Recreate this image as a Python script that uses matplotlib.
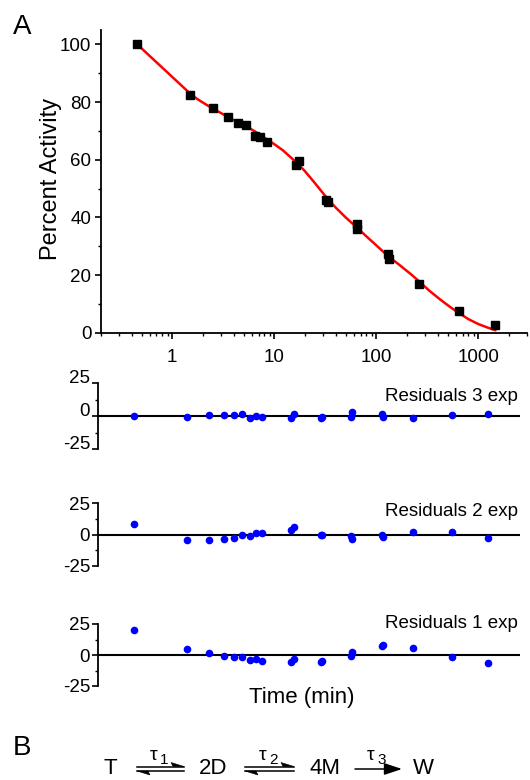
import matplotlib
matplotlib.use("Agg")
import matplotlib.pyplot as plt
from matplotlib.ticker import FixedLocator, LogLocator, NullFormatter, FixedFormatter
from matplotlib.transforms import ScaledTranslation
from matplotlib.patches import Polygon, FancyArrowPatch
from matplotlib.lines import Line2D

plt.rcParams['font.family'] = ['Liberation Sans', 'DejaVu Sans']
plt.rcParams['axes.unicode_minus'] = False

# Measured activity over time
time_min = [0.45, 1.5, 2.5, 3.5, 4.4, 5.3, 6.4, 7.3, 8.4, 16.4, 17.3,
            32, 33.3, 64, 65, 131, 133, 263, 640, 1460]
activity = [100, 82.6, 77.8, 74.9, 72.9, 71.9, 68.4, 67.9, 66.3, 58.3, 59.6,
            46.1, 45.2, 37.7, 36.0, 27.3, 25.6, 16.9, 7.6, 2.7]

# Three-exponential fit curve
fit_time = [0.454, 0.6, 0.8, 1.0, 1.2, 1.35, 1.51, 1.75, 2.0, 2.47, 3.0,
            3.48, 4.4, 5.3, 6.4, 7.5, 8.5, 10, 12, 14, 17, 20, 25, 30, 35,
            40, 50, 64, 80, 100, 130, 170, 220, 263, 330, 420, 530, 640,
            800, 1000, 1250, 1468]
fit_activity = [100, 96.0, 91.9, 88.7, 86.1, 84.4, 82.8, 81.1, 79.8, 77.8,
                76.2, 74.9, 73.0, 71.6, 69.9, 68.3, 67.0, 65.4, 63.4, 61.3,
                58.6, 56.0, 51.9, 48.4, 45.6, 43.4, 40.0, 36.6, 33.4, 30.3,
                26.6, 23.4, 20.2, 17.8, 14.6, 11.6, 8.9, 6.9, 4.7, 3.0, 1.7,
                0.9]

# Residuals of 3-, 2- and 1-exponential fits
resid_3exp = [0.25, -0.8, 0.8, 1.3, 0.8, 1.5, -1.3, 0.3, -0.5, -1.0, 2.0,
              -1.3, -0.5, -0.3, 3.0, 1.5, -0.3, -1.3, 1.0, 1.8]
resid_2exp = [8.1, -4.0, -4.5, -3.3, -2.3, -0.3, -1.0, 1.5, 1.3, 3.5, 6.3,
              -0.5, 0.0, -0.8, -3.8, 0.0, -2.0, 1.8, 1.8, -2.5]
resid_1exp = [20.5, 4.8, 1.3, -0.5, -1.8, -1.5, -4.3, -3.0, -4.5, -5.8, -3.3,
              -5.8, -4.8, -1.0, 2.5, 7.1, 8.1, 5.8, -2.0, -6.8]
resid_labels = ["Residuals 3 exp", "Residuals 2 exp", "Residuals 1 exp"]

x_ticks = [1, 10, 100, 1000]
x_ticklabels = ["1", "10", "100", "1000"]
y_ticks = [0, 20, 40, 60, 80, 100]
resid_ticks = [-25, 0, 25]

W, H = 530, 780
fig = plt.figure(figsize=(W / 100, H / 100), dpi=100)


def rect(l, t, r, b):
    return [l / W, 1 - b / H, (r - l) / W, (b - t) / H]


TICK_FS = 13.5

# ---- main decay panel ----
ax = fig.add_axes(rect(101, 30, 527, 332.7))
ax.plot(fit_time, fit_activity, color='#FF0000', lw=1.8, zorder=2,
        solid_joinstyle='round')
ax.plot(time_min, activity, ls='none', marker='s', ms=5.5, color='black', zorder=3)
ax.set_xscale('log')
ax.set_xlim(0.2, 3000)
ax.set_ylim(0, 105)
for s in ('top', 'right'):
    ax.spines[s].set_visible(False)
for s in ('left', 'bottom'):
    ax.spines[s].set_linewidth(1.3)
ax.xaxis.set_major_locator(FixedLocator(x_ticks))
ax.xaxis.set_major_formatter(FixedFormatter(x_ticklabels))
ax.xaxis.set_minor_locator(LogLocator(base=10, subs=range(2, 10), numticks=20))
ax.xaxis.set_minor_formatter(NullFormatter())
ax.yaxis.set_major_locator(FixedLocator(y_ticks))
ax.yaxis.set_minor_locator(FixedLocator([10, 30, 50, 70, 90]))
ax.tick_params(which='major', direction='out', length=4.5, width=1.2, labelsize=TICK_FS)
ax.tick_params(which='minor', direction='out', length=2.5, width=1.0)
ax.tick_params(axis='x', which='major', pad=7)
ax.tick_params(axis='y', which='major', pad=2.5)

# ---- residual panels ----
resid_boxes = [(383.3, 449.3), (503.3, 566), (624, 686)]
resid_data = [resid_3exp, resid_2exp, resid_1exp]
resid_axes = []
for (t, b), vals in zip(resid_boxes, resid_data):
    r = fig.add_axes(rect(98.5, t, 519.5, b))
    r.axhline(0, color='black', lw=1.5, zorder=1)
    r.plot(time_min, vals, ls='none', marker='o', ms=5.5, color='#0000FF',
           markeredgewidth=0, zorder=3)
    r.set_xscale('log')
    r.set_xlim(0.2, 3000)
    r.set_ylim(-25, 25)
    for s in ('top', 'right', 'bottom'):
        r.spines[s].set_visible(False)
    r.spines['left'].set_linewidth(1.3)
    r.xaxis.set_major_locator(FixedLocator([]))
    r.xaxis.set_minor_locator(FixedLocator([]))
    r.yaxis.set_major_locator(FixedLocator(resid_ticks))
    r.yaxis.set_minor_locator(FixedLocator([-12.5, 12.5]))
    r.tick_params(which='major', direction='out', length=4, width=1.2,
                  labelsize=TICK_FS, pad=2)
    r.tick_params(which='minor', direction='out', length=2.5, width=1.0)
    resid_axes.append(r)

# tick labels of the top residual panel sit a little above their ticks
shift = ScaledTranslation(0, 7 / 100, fig.dpi_scale_trans)
for lbl in resid_axes[0].get_yticklabels():
    lbl.set_transform(lbl.get_transform() + shift)

# ---- annotation layer in pixel coordinates ----
ov = fig.add_axes([0, 0, 1, 1])
ov.set_xlim(0, W)
ov.set_ylim(H, 0)
ov.axis('off')

ov.text(21.7, 27, "A", fontsize=20, ha='center', va='center')
ov.text(22, 748, "B", fontsize=20, ha='center', va='center')
ov.text(51, 179, "Percent Activity", fontsize=17, rotation=90,
        ha='center', va='center')
ov.text(302, 697, "Time (min)", fontsize=16, ha='center', va='center')
for lab, yc in zip(resid_labels, [396.7, 511, 624]):
    ov.text(518, yc, lab, fontsize=13.5, ha='right', va='center')

# kinetic scheme
species = [("T", 110), ("2D", 213), ("4M", 325), ("W", 423)]
for name, xc in species:
    ov.text(xc, 768.5, name, fontsize=16, ha='center', va='center')

taus = [(154, 164, "1"), (262.5, 274, "2"), (371, 381.7, "3")]
for xt, xs, sub in taus:
    ov.text(xt, 755, "τ", fontsize=14, ha='center', va='center')
    ov.text(xs, 759.5, sub, fontsize=11, ha='center', va='center')


def harpoons(x0, x1, y_top=766.5, y_bot=771):
    ov.add_line(Line2D([x0, x1], [y_top, y_top], color='black', lw=1.1))
    ov.add_patch(Polygon([(x1, y_top), (x1 - 13, y_top - 4), (x1 - 11, y_top)],
                         closed=True, color='black', lw=0.4))
    ov.add_line(Line2D([x0, x1], [y_bot, y_bot], color='black', lw=1.1))
    ov.add_patch(Polygon([(x0, y_bot), (x0 + 13, y_bot + 4), (x0 + 11, y_bot)],
                         closed=True, color='black', lw=0.4))


harpoons(137, 184)
harpoons(245, 294)
ov.add_patch(FancyArrowPatch((355, 769), (402, 769),
                             arrowstyle='-|>,head_length=0.6,head_width=0.2',
                             mutation_scale=18, color='black', lw=1.1,
                             shrinkA=0, shrinkB=0))

fig.savefig("out.png", dpi=100)
